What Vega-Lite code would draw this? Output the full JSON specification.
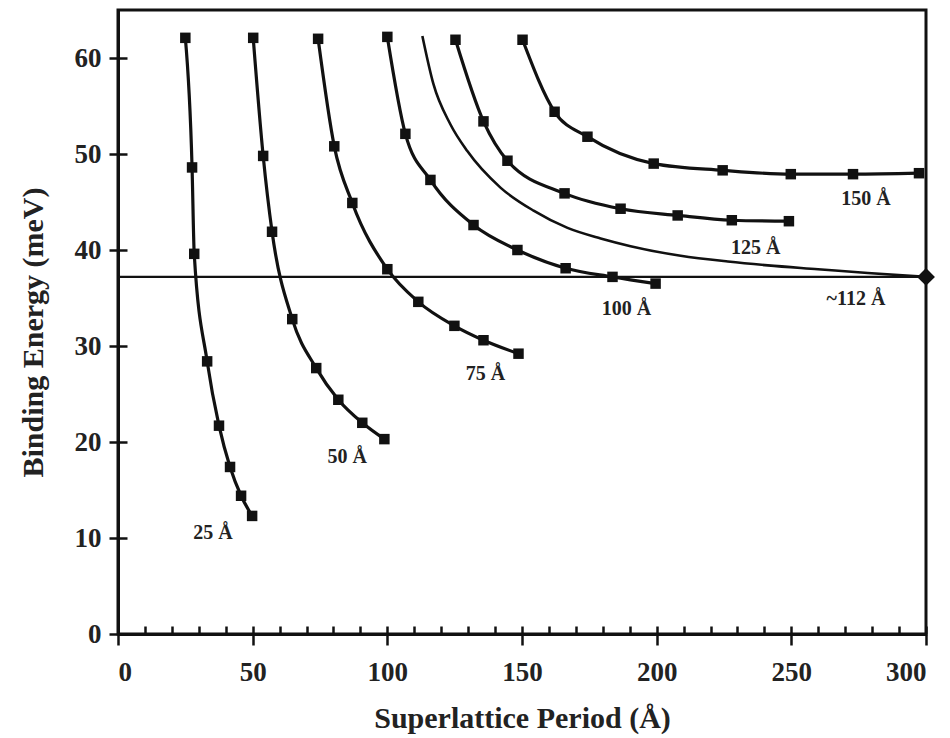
{
  "$schema": "https://vega.github.io/schema/vega-lite/v6.json",
  "width": 808,
  "height": 624,
  "autosize": {"type": "none"},
  "padding": {"left": 118, "top": 10, "right": 24, "bottom": 104},
  "background": "white",
  "config": {
    "view": {"stroke": "#111", "strokeWidth": 3},
    "font": "Liberation Serif",
    "axis": {
      "domainColor": "#111",
      "domainWidth": 3,
      "tickColor": "#111",
      "tickWidth": 2.5,
      "grid": false,
      "labelFont": "Liberation Serif",
      "labelFontWeight": "bold",
      "labelFontSize": 27,
      "labelColor": "#222",
      "titleFont": "Liberation Serif",
      "titleFontWeight": "bold",
      "titleFontSize": 30,
      "titleColor": "#222"
    }
  },
  "datasets": {
    "series": [
      {"series": "25", "period": 25.0, "energy": 62.1},
      {"series": "25", "period": 27.5, "energy": 48.6},
      {"series": "25", "period": 28.3, "energy": 39.6},
      {"series": "25", "period": 33.1, "energy": 28.4},
      {"series": "25", "period": 37.5, "energy": 21.7},
      {"series": "25", "period": 41.6, "energy": 17.4},
      {"series": "25", "period": 45.7, "energy": 14.4},
      {"series": "25", "period": 49.8, "energy": 12.3},
      {"series": "50", "period": 50.2, "energy": 62.1},
      {"series": "50", "period": 53.9, "energy": 49.8},
      {"series": "50", "period": 57.2, "energy": 41.9},
      {"series": "50", "period": 64.7, "energy": 32.8},
      {"series": "50", "period": 73.6, "energy": 27.7},
      {"series": "50", "period": 81.8, "energy": 24.4},
      {"series": "50", "period": 90.7, "energy": 22.0},
      {"series": "50", "period": 98.9, "energy": 20.3},
      {"series": "75", "period": 74.3, "energy": 62.0},
      {"series": "75", "period": 80.3, "energy": 50.8},
      {"series": "75", "period": 87.0, "energy": 44.9},
      {"series": "75", "period": 100.0, "energy": 38.0},
      {"series": "75", "period": 111.5, "energy": 34.6},
      {"series": "75", "period": 124.9, "energy": 32.1},
      {"series": "75", "period": 135.7, "energy": 30.6},
      {"series": "75", "period": 148.7, "energy": 29.2},
      {"series": "100", "period": 100.0, "energy": 62.2},
      {"series": "100", "period": 106.7, "energy": 52.1},
      {"series": "100", "period": 116.0, "energy": 47.3},
      {"series": "100", "period": 132.0, "energy": 42.6},
      {"series": "100", "period": 148.3, "energy": 40.0},
      {"series": "100", "period": 166.2, "energy": 38.1},
      {"series": "100", "period": 183.6, "energy": 37.2},
      {"series": "100", "period": 199.6, "energy": 36.5},
      {"series": "125", "period": 125.3, "energy": 61.9},
      {"series": "125", "period": 135.7, "energy": 53.4},
      {"series": "125", "period": 144.6, "energy": 49.3},
      {"series": "125", "period": 165.8, "energy": 45.9},
      {"series": "125", "period": 186.6, "energy": 44.3},
      {"series": "125", "period": 207.8, "energy": 43.6},
      {"series": "125", "period": 227.9, "energy": 43.1},
      {"series": "125", "period": 249.1, "energy": 43.0},
      {"series": "150", "period": 150.2, "energy": 61.9},
      {"series": "150", "period": 162.1, "energy": 54.4},
      {"series": "150", "period": 174.3, "energy": 51.8},
      {"series": "150", "period": 198.9, "energy": 49.0},
      {"series": "150", "period": 224.5, "energy": 48.3},
      {"series": "150", "period": 249.8, "energy": 47.9},
      {"series": "150", "period": 272.9, "energy": 47.9},
      {"series": "150", "period": 297.4, "energy": 48.0}
    ],
    "critical": [
      {"period": 113.0, "energy": 62.3},
      {"period": 117.1, "energy": 57.3},
      {"period": 123.4, "energy": 53.1},
      {"period": 129.7, "energy": 50.3},
      {"period": 142.0, "energy": 46.5},
      {"period": 154.3, "energy": 44.1},
      {"period": 166.9, "energy": 42.3},
      {"period": 179.2, "energy": 41.2},
      {"period": 190.3, "energy": 40.4},
      {"period": 208.9, "energy": 39.4},
      {"period": 226.4, "energy": 38.8},
      {"period": 241.3, "energy": 38.4},
      {"period": 259.9, "energy": 38.0},
      {"period": 278.4, "energy": 37.6},
      {"period": 300.0, "energy": 37.2}
    ],
    "limit": [
      {"period": 300.0, "energy": 37.2}
    ],
    "labels": [
      {"period": 35.3, "energy": 10.5, "text": "25 Å"},
      {"period": 85.1, "energy": 18.4, "text": "50 Å"},
      {"period": 136.4, "energy": 27.1, "text": "75 Å"},
      {"period": 188.8, "energy": 33.9, "text": "100 Å"},
      {"period": 236.8, "energy": 40.2, "text": "125 Å"},
      {"period": 277.7, "energy": 45.3, "text": "150 Å"},
      {"period": 274.0, "energy": 34.9, "text": "~112 Å"}
    ]
  },
  "resolve": {"axis": {"x": "independent", "y": "independent"}},
  "layer": [
    {
      "layer": [
        {
          "data": {"name": "limit"},
          "mark": {"type": "rule", "color": "#111", "strokeWidth": 2.2},
          "encoding": {
            "y": {"field": "energy", "type": "quantitative", "scale": {"domain": [0, 65]}}
          }
        },
        {
          "data": {"name": "series"},
          "mark": {"type": "line", "color": "#111", "strokeWidth": 3.2, "interpolate": "monotone"},
          "encoding": {
            "x": {
              "field": "period", "type": "quantitative",
              "scale": {"domain": [0, 300], "nice": false},
              "axis": {
                "title": "Superlattice Period (Å)",
                "values": [0, 50, 100, 150, 200, 250, 300],
                "tickSize": 11,
                "labelPadding": 14,
                "titlePadding": 18
              }
            },
            "y": {
              "field": "energy", "type": "quantitative",
              "scale": {"domain": [0, 65], "nice": false},
              "axis": {
                "title": "Binding Energy (meV)",
                "values": [0, 10, 20, 30, 40, 50, 60],
                "tickSize": 9,
                "labelPadding": 8,
                "titlePadding": 26,
                "titleY": 322
              }
            },
            "detail": {"field": "series"}
          }
        },
        {
          "data": {"name": "series"},
          "mark": {"type": "point", "shape": "square", "filled": true, "color": "#111", "opacity": 1, "size": 110},
          "encoding": {
            "x": {"field": "period", "type": "quantitative"},
            "y": {"field": "energy", "type": "quantitative"}
          }
        },
        {
          "data": {"name": "critical"},
          "mark": {"type": "line", "color": "#111", "strokeWidth": 2.6, "interpolate": "monotone"},
          "encoding": {
            "x": {"field": "period", "type": "quantitative"},
            "y": {"field": "energy", "type": "quantitative"}
          }
        },
        {
          "data": {"name": "labels"},
          "mark": {"type": "text", "font": "Liberation Serif", "fontWeight": "bold", "fontSize": 20, "color": "#222"},
          "encoding": {
            "x": {"field": "period", "type": "quantitative"},
            "y": {"field": "energy", "type": "quantitative"},
            "text": {"field": "text"}
          }
        }
      ]
    },
    {
      "data": {"name": "limit"},
      "mark": {"type": "point", "shape": "diamond", "filled": true, "color": "#111", "opacity": 1, "size": 320},
      "encoding": {
        "x": {
          "field": "period", "type": "quantitative",
          "scale": {"domain": [0, 300], "nice": false},
          "axis": {
            "orient": "bottom",
            "title": null,
            "labels": false,
            "domain": false,
            "values": [0, 10, 20, 30, 40, 50, 60, 70, 80, 90, 100, 110, 120, 130, 140, 150, 160, 170, 180, 190, 200, 210, 220, 230, 240, 250, 260, 270, 280, 290, 300],
            "tickSize": -8
          }
        },
        "y": {
          "field": "energy", "type": "quantitative",
          "scale": {"domain": [0, 65], "nice": false},
          "axis": {
            "orient": "left",
            "title": null,
            "labels": false,
            "domain": false,
            "values": [0, 10, 20, 30, 40, 50, 60],
            "tickSize": -9
          }
        }
      }
    }
  ]
}
